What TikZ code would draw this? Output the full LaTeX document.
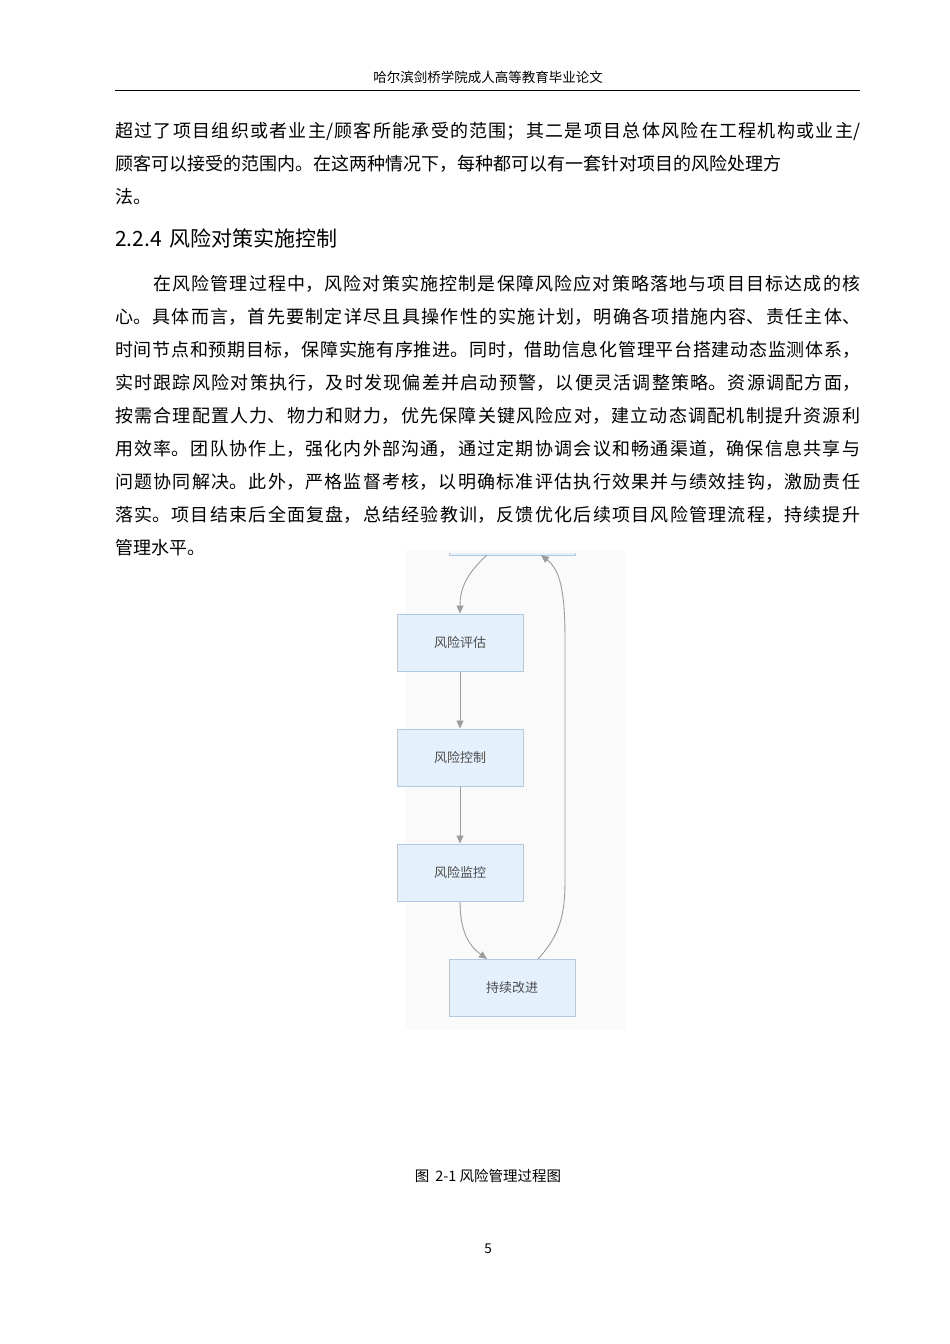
\documentclass[tikz,border=0pt]{standalone}
\usepackage{fontspec}
\setmainfont{Noto Sans CJK SC}
\XeTeXlinebreaklocale "zh"
\XeTeXlinebreakskip=0pt plus 2pt
\usetikzlibrary{arrows.meta}
\definecolor{boxfill}{HTML}{E4F1FC}
\definecolor{boxline}{HTML}{AECBE3}
\definecolor{arr}{HTML}{9C9C9C}
\newcommand{\jline}[1]{\parbox{745pt}{\fontsize{18}{20}\selectfont\parfillskip=0pt #1\par}}
\begin{document}
\begin{tikzpicture}[x=1pt,y=-1pt,
  full/.style={anchor=west,inner sep=0},
  part/.style={anchor=west,inner sep=0,font=\fontsize{18}{20}\selectfont},
  pbox/.style={draw=boxline,fill=boxfill,line width=1pt,minimum width=126pt,minimum height=57pt,inner sep=0,font=\fontsize{13}{15}\selectfont\color{black!70}},
  flow/.style={draw=arr,line width=0.9pt,-{Triangle[length=8pt,width=7pt]}}]
\useasboundingbox (0,0) rectangle (950,1344);
\fill[white] (0,0) rectangle (950,1344);
% header
\node (hdr) at (488,77) {\fontsize{13.5}{16}\selectfont 哈尔滨剑桥学院成人高等教育毕业论文};
\draw[line width=0.6pt] (115,90) -- (860,90);
% paragraph 1
\node[full] (p1) at (115,131) {\jline{超过了项目组织或者业主/顾客所能承受的范围；其二是项目总体风险在工程机构或业主/}};
\node[part] (p2) at (115,164) {顾客可以接受的范围内。在这两种情况下，每种都可以有一套针对项目的风险处理方};
\node[part] (p3) at (115,197) {法。};
% heading
\node[part,font=\fontsize{21}{24}\selectfont] (h) at (115,238) {2.2.4\hspace{8pt}风险对策实施控制};
% paragraph 2
\node[full] (q1) at (115,284) {\jline{\hspace*{38pt}在风险管理过程中，风险对策实施控制是保障风险应对策略落地与项目目标达成的核}};
\node[full] (q2) at (115,317) {\jline{心。具体而言，首先要制定详尽且具操作性的实施计划，明确各项措施内容、责任主体、}};
\node[full] (q3) at (115,350) {\jline{时间节点和预期目标，保障实施有序推进。同时，借助信息化管理平台搭建动态监测体系，}};
\node[full] (q4) at (115,383) {\jline{实时跟踪风险对策执行，及时发现偏差并启动预警，以便灵活调整策略。资源调配方面，}};
\node[full] (q5) at (115,416) {\jline{按需合理配置人力、物力和财力，优先保障关键风险应对，建立动态调配机制提升资源利}};
\node[full] (q6) at (115,449) {\jline{用效率。团队协作上，强化内外部沟通，通过定期协调会议和畅通渠道，确保信息共享与}};
\node[full] (q7) at (115,482) {\jline{问题协同解决。此外，严格监督考核，以明确标准评估执行效果并与绩效挂钩，激励责任}};
\node[full] (q8) at (115,515) {\jline{落实。项目结束后全面复盘，总结经验教训，反馈优化后续项目风险管理流程，持续提升}};
\node[part] (q9) at (115,548) {管理水平。};
% diagram
\fill[black!2] (405,550) rectangle (625,1030);
\begin{scope}
\clip (380,553) rectangle (640,1040);
\node[pbox] (top) at (512,527) {};
\end{scope}
\node[pbox] (a) at (460,642.5) {风险评估};
\node[pbox] (b) at (460,757.5) {风险控制};
\node[pbox] (c) at (460,872.5) {风险监控};
\node[pbox] (d) at (512,987.5) {持续改进};
\coordinate (tb1) at (487,555);
\coordinate (tb2) at (541,555);
\coordinate (d1) at (487,959);
\coordinate (d2) at (538,959);
\draw[flow] (tb1) .. controls (465,575) and (460,590) .. (a.north);
\draw[flow] (a) -- (b);
\draw[flow] (b) -- (c);
\draw[flow] (c.south) .. controls (460,930) and (468,945) .. (d1);
\draw[flow] (d2) .. controls (560,935) and (565,915) .. (565,880) -- (565,640) .. controls (565,590) and (560,570) .. (tb2);
% caption
\node (cap) at (488,1176) {\fontsize{14.5}{17}\selectfont 图\hspace{6pt}2-1 风险管理过程图};
\node (pg) at (488,1249) {\fontsize{13.5}{16}\selectfont 5};
\end{tikzpicture}
\end{document}
